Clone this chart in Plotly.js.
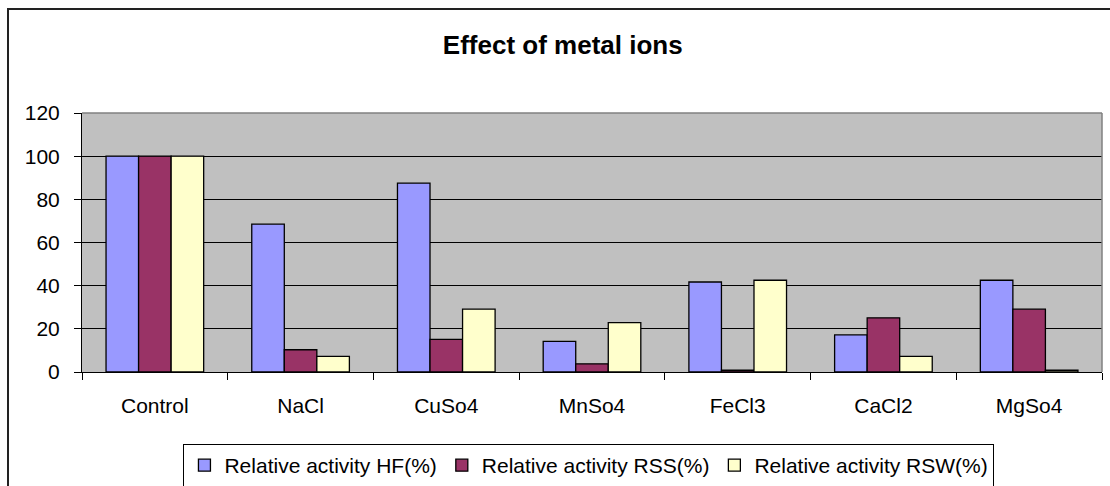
<!DOCTYPE html>
<html>
<head>
<meta charset="utf-8">
<script src="https://cdn.plot.ly/plotly-3.0.1.min.js"></script>
<style>
  html, body { margin: 0; padding: 0; background: #fff; }
  #frame { position: absolute; left: 7px; top: 8px; width: 1110px; height: 486px;
           border-left: 2px solid #222; border-top: 2px solid #222; }
  #chart { position: absolute; left: 0; top: 0; width: 1110px; height: 486px; }
</style>
</head>
<body>
<div id="frame"></div>
<div id="chart"></div>
<script>
const categories = ["Control", "NaCl", "CuSo4", "MnSo4", "FeCl3", "CaCl2", "MgSo4"];
const seriesNames = ["Relative activity HF(%)", "Relative activity RSS(%)", "Relative activity RSW(%)"];
const hfValues  = [100, 68.5, 87.5, 14.2, 41.7, 17.2, 42.5];
const rssValues = [100, 10.3, 15.1, 3.8, 0.8, 25.1, 29.1];
const rswValues = [100, 7.2, 29.1, 22.9, 42.5, 7.2, 0.8];
const yTicks = [0, 20, 40, 60, 80, 100, 120];
const colors = ["#9999FF", "#993366", "#FFFFCC"];

const allValues = [hfValues, rssValues, rswValues];
const traces = allValues.map((vals, i) => ({
  type: "bar",
  name: seriesNames[i],
  x: categories,
  y: vals,
  marker: { color: colors[i], line: { color: "#000", width: 1.3 } },
  hoverinfo: "x+y"
}));

const FONT = "Liberation Sans, Arial, sans-serif";
const layout = {
  width: 1110, height: 486,
  margin: { l: 82, r: 8, t: 113, b: 114, autoexpand: false },
  paper_bgcolor: "rgba(0,0,0,0)",
  plot_bgcolor: "#C0C0C0",
  font: { family: FONT, size: 21, color: "#000" },
  title: { text: "<b>Effect of metal ions</b>", x: 0.507, xref: "container", xanchor: "center",
           y: 0.907, yref: "container", yanchor: "middle",
           font: { family: FONT, size: 26, color: "#000" } },
  barmode: "group",
  bargap: 0.33,
  bargroupgap: 0,
  showlegend: true,
  legend: {
    orientation: "h", x: 0.497, xanchor: "center",
    yref: "container", y: 1 - 444 / 486, yanchor: "top",
    bordercolor: "#000", borderwidth: 1, bgcolor: "#fff",
    font: { family: FONT, size: 21, color: "#000" },
    itemwidth: 30, tracegroupgap: 0, traceorder: "normal"
  },
  xaxis: {
    type: "category",
    showgrid: false,
    ticks: "outside", ticklen: 7, tickcolor: "#000", tickwidth: 1,
    tickson: "boundaries",
    showline: true, linecolor: "#000", linewidth: 1,
    automargin: false,
    ticklabelstandoff: 15,
    tickfont: { size: 21 },
    fixedrange: true
  },
  yaxis: {
    range: [0, 120],
    tickvals: yTicks,
    ticktext: yTicks.map(String),
    showgrid: true, gridcolor: "#000", gridwidth: 1,
    ticks: "outside", ticklen: 7, tickcolor: "#000",
    showline: true, linecolor: "#000", linewidth: 1,
    zeroline: false,
    automargin: false,
    ticklabelstandoff: 10,
    tickfont: { size: 21 },
    fixedrange: true
  },
  shapes: [
    { type: "line", xref: "paper", yref: "paper", x0: 0, x1: 1, y0: 1, y1: 1, line: { color: "#808080", width: 1.5 } },
    { type: "line", xref: "paper", yref: "paper", x0: 1, x1: 1, y0: 0, y1: 1, line: { color: "#808080", width: 1.5 } }
  ]
};

Plotly.newPlot("chart", traces, layout, { displayModeBar: false, staticPlot: true });
</script>
</body>
</html>
